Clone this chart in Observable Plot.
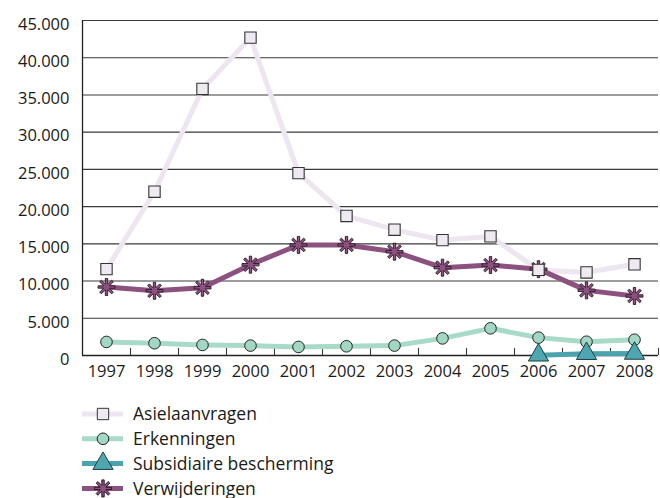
<!DOCTYPE html>
<html><head><meta charset="utf-8">
<script src="https://cdn.jsdelivr.net/npm/d3@7"></script>
<script src="https://cdn.jsdelivr.net/npm/@observablehq/plot@0.6"></script>
<style>
body{margin:0;background:#fff;font-family:"Open Sans",sans-serif;}
#chart svg{display:block;}
</style></head><body><div id="chart"></div>
<script>
const years = [1997,1998,1999,2000,2001,2002,2003,2004,2005,2006,2007,2008];
const asielaanvragen = [11600,22000,35800,42700,24500,18750,16900,15500,16000,11500,11150,12250];
const erkenningen = [1820,1650,1420,1330,1150,1240,1330,2300,3650,2400,1850,2120];
const subsidiaire = [null,null,null,null,null,null,null,null,null,40,250,280];
const verwijderingen = [9200,8700,9100,12200,14850,14850,13950,11800,12150,11600,8750,8000];
const yTicks = [0,5000,10000,15000,20000,25000,30000,35000,40000,45000];
const seriesNames = ["Asielaanvragen","Erkenningen","Subsidiaire bescherming","Verwijderingen"];
const lineColors = ["#ede5ef","#a8dac8","#4aa3af","#8b517f"];
const markFills = ["#efe9f1","#a4d7c3","#4ea6b1","#8b517f"];

function rows(vals){ return years.map((y,i)=>({year:y,value:vals[i]})).filter(d=>d.value!=null); }

// custom thick asterisk symbol
const asteriskSym = {
  draw(ctx, size){
    const R = Math.sqrt(size/Math.PI);
    const w = R*0.14;
    const inner = w/Math.sin(Math.PI/8);
    for(let k=0;k<8;k++){
      const t = k*Math.PI/4 - Math.PI/2;
      const ux=Math.cos(t), uy=Math.sin(t), nx=-Math.sin(t), ny=Math.cos(t);
      const p1=[R*ux - w*nx, R*uy - w*ny], p2=[R*ux + w*nx, R*uy + w*ny];
      if(k===0) ctx.moveTo(p1[0],p1[1]); else ctx.lineTo(p1[0],p1[1]);
      ctx.lineTo(p2[0],p2[1]);
      const ti = t+Math.PI/8;
      ctx.lineTo(inner*Math.cos(ti), inner*Math.sin(ti));
    }
    ctx.closePath();
  }
};
const fmt = d => d===0 ? "0" : d3.format(",")(d).replace(/,/g,".");
const bounds = years.map(y=>y+0.5);

const A = rows(asielaanvragen), E = rows(erkenningen), S = rows(subsidiaire), V = rows(verwijderingen);

const plot = Plot.plot({
  width:660, height:390,
  marginLeft:82, marginRight:2, marginTop:20, marginBottom:35,
  style:{fontFamily:"Open Sans, sans-serif", fontSize:"16.5px", color:"#1a1a1a", background:"#fff"},
  x:{type:"linear", domain:[1996.5,2008.5], label:null},
  y:{domain:[0,45000], label:null},
  marks:[
    Plot.ruleY(yTicks.filter(d=>d>0), {stroke:"#3a3a3a", strokeWidth:1.1}),
    Plot.ruleX(bounds, {y1:0, y2:950, stroke:"#3a3a3a", strokeWidth:1.1}),
    Plot.axisY(yTicks, {tickSize:0, tickPadding:13, tickFormat:fmt, dy:4, fontSize:16.5, label:null}),
    Plot.axisX(years, {tickSize:0, tickPadding:10, tickFormat:d=>String(d), fontSize:16.5, label:null}),
    Plot.ruleX([1996.5], {stroke:"#222", strokeWidth:1.3}),
    Plot.ruleY([0], {stroke:"#222", strokeWidth:1.5}),
    Plot.line(A, {x:"year", y:"value", stroke:lineColors[0], strokeWidth:5}),
    Plot.line(V, {x:"year", y:"value", stroke:lineColors[3], strokeWidth:5}),
    Plot.line(E, {x:"year", y:"value", stroke:lineColors[1], strokeWidth:5}),
    Plot.line(S, {x:"year", y:"value", stroke:lineColors[2], strokeWidth:5}),
    Plot.dot(V, {x:"year", y:"value", symbol:asteriskSym, r:8.5, fill:markFills[3], stroke:"#2a1a26", strokeWidth:0.9}),
    Plot.dot(A, {x:"year", y:"value", symbol:"square", r:6.4, fill:markFills[0], stroke:"#333", strokeWidth:1.1}),
    Plot.dot(E, {x:"year", y:"value", symbol:"circle", r:5.8, fill:markFills[1], stroke:"#222", strokeWidth:1}),
    Plot.dot(S, {x:"year", y:"value", symbol:"triangle", r:7.5, fill:markFills[2], stroke:"#1f3f44", strokeWidth:1})
  ]
});
document.getElementById("chart").appendChild(plot);

// legend
const syms = [d3.symbolSquare, d3.symbolCircle, d3.symbolTriangle, asteriskSym];
const rs = [6.4,5.8,7.5,8.5];
const strokes = ["#333","#222","#1f3f44","#2a1a26"];
const leg = d3.select("#chart").append("svg").attr("width",660).attr("height",108);
seriesNames.forEach((name,i)=>{
  const cy = 24 + i*24.8;
  const g = leg.append("g");
  g.append("line").attr("x1",82).attr("x2",123).attr("y1",cy).attr("y2",cy)
    .attr("stroke",lineColors[i]).attr("stroke-width",5);
  g.append("path").attr("transform",`translate(103,${cy})`)
    .attr("d", d3.symbol(syms[i], rs[i]*rs[i]*Math.PI)())
    .attr("fill",markFills[i]).attr("stroke",strokes[i]).attr("stroke-width",1);
  g.append("text").attr("x",133).attr("y",cy).attr("dy","0.35em")
    .attr("font-size",17.5).attr("fill","#1a1a1a").attr("font-family","Open Sans, sans-serif").text(name);
});
</script></body></html>
